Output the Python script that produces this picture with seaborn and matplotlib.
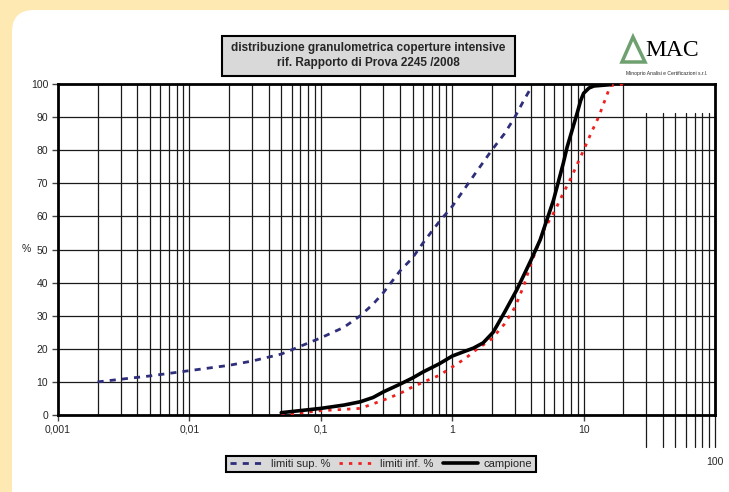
import numpy as np
import pandas as pd
import seaborn as sns
import matplotlib.pyplot as plt
from matplotlib.patches import FancyBboxPatch, Rectangle, Polygon

# data (grain size in mm, passing %)
sup_x = [0.002, 0.003, 0.005, 0.01, 0.02, 0.03, 0.05, 0.1, 0.15, 0.2, 0.25, 0.3, 0.4, 0.5, 0.6,
         0.7, 0.8, 1, 1.25, 1.5, 2, 2.5, 3, 3.5, 4]
sup_y = [10, 10.8, 11.8, 13.4, 15, 16.3, 18.4, 23.3, 26.5, 30, 33.5, 37, 43.5, 47.5, 52,
         55.5, 58.5, 63, 68.5, 73, 80, 85, 90, 95, 99]

inf_x = [0.05, 0.1, 0.15, 0.2, 0.3, 0.4, 0.5, 0.65, 0.8, 1, 1.25, 1.5, 2, 2.5, 3, 3.5, 4, 5, 6,
         7, 8, 9, 10, 11.5, 13, 14.5, 16, 20]
inf_y = [0, 1.3, 1.7, 2, 4.5, 6.5, 8.5, 10.5, 12, 14.5, 17, 19.5, 23, 27.5, 32.5, 39, 46, 56, 61.5,
         67, 71.5, 76, 80, 85.5, 90, 95, 99.5, 100]

camp_x = [0.05, 0.1, 0.15, 0.2, 0.25, 0.3, 0.4, 0.5, 0.6, 0.8, 1, 1.2, 1.45, 1.72, 2.05, 2.5, 3.1,
          4, 4.67, 5.9, 7, 7.5, 8.9, 9.5, 10, 11, 12, 16]
camp_y = [0.7, 2, 3, 4, 5.3, 7, 9.3, 11.2, 13, 15.5, 17.8, 19, 20.2, 21.8, 25, 31, 37.8,
          47, 52.9, 64.9, 76, 81, 91, 95, 97.2, 98.8, 99.4, 99.8]

xtick_vals = [0.001, 0.01, 0.1, 1, 10]
xtick_labels = ["0,001", "0,01", "0,1", "1", "10"]
ytick_vals = list(range(0, 101, 10))

title = "distribuzione granulometrica coperture intensive\nrif. Rapporto di Prova 2245 /2008"
labels = ["limiti sup. %", "limiti inf. %", "campione"]

sns.set_style("white")
plt.rcParams['font.family'] = ['Liberation Sans', 'DejaVu Sans']

W, H = 729, 492
fig = plt.figure(figsize=(W / 100, H / 100), dpi=100)
fig.patch.set_facecolor('#FFE9B3')

# white rounded panel
panel = FancyBboxPatch((12 / 100, -0.5), 8.0, (H - 10) / 100 + 0.5,
                       boxstyle="round,pad=0,rounding_size=0.22",
                       transform=fig.dpi_scale_trans, fc='white', ec='none', zorder=-10)
fig.patches.append(panel)

ax = fig.add_axes([58 / W, 1 - 415 / H, 657 / W, 331 / H])
ax.set_facecolor('white')
ax.set_xscale('log')
ax.set_xlim(0.001, 100)
ax.set_ylim(0, 100)

# vertical grid lines (Excel-like quirk in the last decade)
gc = '#1a1a1a'
for dec in [0.001, 0.01, 0.1, 1, 10]:
  for m in range(1, 10):
    v = dec * m
    if dec == 10 and m >= 3:
      continue
    if v == 0.001:
      continue
    ax.axvline(v, color=gc, lw=0.9, zorder=1)
for m in range(3, 11):
  ax.plot([10 * m, 10 * m], [-9.7, 91.2], color=gc, lw=0.9, clip_on=False, zorder=1)

for v in ytick_vals[1:-1]:
  ax.axhline(v, color=gc, lw=0.9, zorder=1)

sns.lineplot(x=sup_x, y=sup_y, ax=ax, color='#2E2E7A', lw=2, sort=False,
             dashes=False, label=labels[0], zorder=3)
sns.lineplot(x=inf_x, y=inf_y, ax=ax, color='#F02020', lw=2, sort=False,
             dashes=False, label=labels[1], zorder=3)
sns.lineplot(x=camp_x, y=camp_y, ax=ax, color='black', lw=2.6, sort=False,
             dashes=False, label=labels[2], zorder=4)
lines = ax.get_lines()[-3:]
lines[0].set_dashes([2.2, 2.2])
lines[1].set_dashes([1.2, 2.2])

ax.set_xticks(xtick_vals)
ax.set_xticklabels(xtick_labels)
ax.xaxis.set_minor_locator(plt.NullLocator())
ax.set_yticks(ytick_vals)
ax.set_yticklabels([str(v) for v in ytick_vals])
ax.tick_params(axis='both', which='major', length=4, width=1, color='#444444',
               direction='out', labelsize=7.5, pad=3, bottom=True, left=True)
ax.set_xlabel("")
ax.set_ylabel("%", rotation=0, fontsize=7.5, labelpad=10, va='center')
ax.yaxis.set_label_coords(-0.048, 0.5)
for s in ax.spines.values():
  s.set_linewidth(2)
  s.set_color('black')
ax.get_legend().remove()

fig.text(715 / W, 1 - 462 / H, "100", fontsize=7.5, ha='center', va='center')

# title box
fig.patches.append(Rectangle((222 / W, 1 - 76 / H), 293 / W, 40 / H, transform=fig.transFigure,
                             fc='#D9D9D9', ec='black', lw=1.5, zorder=2))
fig.text(368.5 / W, 1 - 55.5 / H, title, fontsize=8.5, fontweight='bold',
         ha='center', va='center', linespacing=1.25, zorder=3)

# legend
leg = fig.legend(lines, labels, loc='center', bbox_to_anchor=(381 / W, 1 - 464 / H), ncol=3,
                 fontsize=8, frameon=True, fancybox=False, framealpha=1,
                 facecolor='#D9D9D9', edgecolor='black', handlelength=3.2,
                 handletextpad=0.5, columnspacing=0.8, borderpad=0.3)
leg.get_frame().set_linewidth(1.5)

# logo
tri = Polygon([(622 / W, 1 - 62 / H), (633 / W, 1 - 37 / H), (645 / W, 1 - 62 / H)],
              closed=True, transform=fig.transFigure, fc='none', ec='#6FA070', lw=2.5)
fig.patches.append(tri)
fig.text(672 / W, 1 - 51 / H, "MAC", family='Liberation Serif', fontsize=17,
         ha='center', va='center', color='black')
fig.text(667 / W, 1 - 73 / H, "Minoprio Analisi e Certificazioni s.r.l.", fontsize=3.6,
         ha='center', va='center')

fig.savefig("out.png", dpi=100, facecolor=fig.get_facecolor())
